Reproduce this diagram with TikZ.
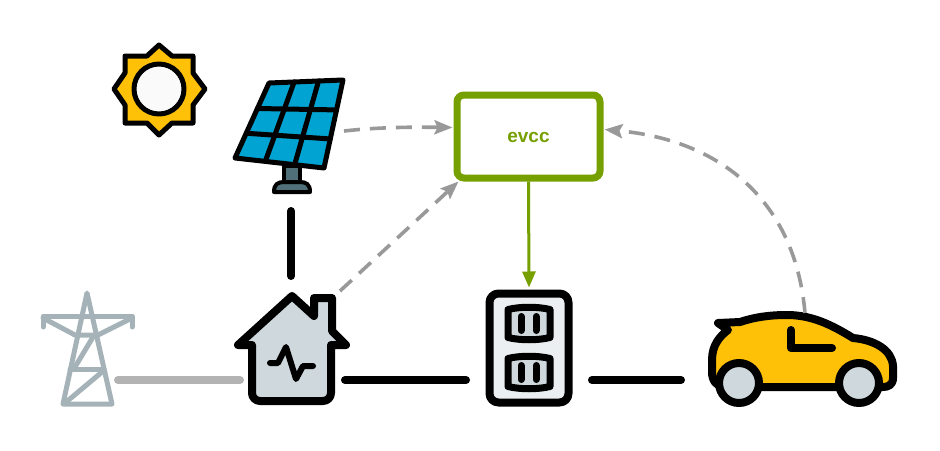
\documentclass[tikz,border=0pt]{standalone}
\usepackage{fontspec}
\setsansfont{Liberation Sans}
\usetikzlibrary{arrows.meta,calc}
\definecolor{evccgreen}{HTML}{76A000}
\definecolor{flowgray}{HTML}{999999}
\definecolor{gridgray}{HTML}{B3B3B3}
\definecolor{towergray}{HTML}{A5B3B8}
\definecolor{sunyellow}{HTML}{FFC107}
\definecolor{panelblue}{HTML}{00A3D1}
\definecolor{standgray}{HTML}{4F7078}
\definecolor{housegray}{HTML}{CFD8DC}
\definecolor{socketgray}{HTML}{ECEFF1}
\tikzset{
  icon/.style={draw=black,line width=5pt,line join=round,line cap=round},
  thick icon/.style={icon,line width=8pt},
  tower/.style={draw=towergray,line width=5pt,line join=round,line cap=round},
  power/.style={draw=black,line width=8pt,line cap=round},
  flow/.style={draw=flowgray,line width=3.6pt,dash pattern=on 16pt off 10pt,-{Stealth[length=18pt,width=14pt,inset=3pt,sep=0pt]}},
  slot/.style={draw=black,line width=7pt,line cap=round}
}
\begin{document}
\begin{tikzpicture}[x=1pt,y=-1pt]
	\useasboundingbox (0,0) rectangle (940,450);
	%sun
	\draw[icon,fill=sunyellow] (159,45) -- (172,56) -- (193,56) -- (193,73) -- (205,89) -- (193,105) -- (193,123) -- (172,123) -- (159,135) -- (147,123) -- (125,123) -- (125,105) -- (114,89) -- (125,73) -- (125,56) -- (147,56) -- cycle;
	\draw[icon,fill=white!98!black] (159,89) circle(25);
	%solar panel
	\draw[icon,fill=standgray,line width=4pt] (284,166) rectangle (300,184);
	\draw[icon,fill=standgray,line width=4pt] (274,192) .. controls (274,184) and (278,182) .. (284,182) -- (300,182) .. controls (306,182) and (310,184) .. (310,192) -- cycle;
	\coordinate (PA) at (269,83);
	\coordinate (PB) at (343,80);
	\coordinate (PC) at (324,168);
	\coordinate (PD) at (235,158);
	\draw[icon,fill=panelblue] (PA) -- (PB) -- (PC) -- (PD) -- cycle;
	\foreach \t in {0.34,0.67}{
		\draw[icon] ($(PA)!\t!(PB)$) -- ($(PD)!\t!(PC)$);
		\draw[icon] ($(PA)!\t!(PD)$) -- ($(PB)!\t!(PC)$);
	}
	\coordinate (panelS) at (291,211);
	\coordinate (panelE) at (344,131);
	%grid tower
	\draw[tower] (87,293) -- (63,404) -- (112,404) -- cycle;
	\draw[tower] (43,327) -- (43,316) -- (132,316) -- (132,327);
	\draw[tower] (43,318) -- (75,335) -- (98,335) -- (132,318);
	\draw[tower] (93,337) -- (75,367);
	\draw[tower] (70,369) -- (103,369);
	\draw[tower] (102,372) -- (65,403);
	\coordinate (towerE) at (118,380);
	%house
	\draw[thick icon,fill=housegray] (292,296) -- (314,316) -- (314,298) -- (332,298) -- (332,331) -- (346,345) -- (331,345) -- (331,392) [rounded corners=8pt] -- (331,401) -- (252,401) [sharp corners] -- (252,345) -- (238,345) -- cycle;
	\draw[icon,line width=6pt] (270,363) -- (278,363) -- (286,347) -- (296,379) -- (303,366) -- (313,366);
	\coordinate (houseN) at (291,276);
	\coordinate (houseW) at (240,380);
	\coordinate (houseE) at (345,380);
	\coordinate (houseNE) at (340,291);
	%socket
	\node[thick icon,fill=socketgray,rounded corners=9pt,minimum width=79pt,minimum height=109pt,inner sep=0pt] (socket) at (529,348) {};
	\foreach \y in {323.5,372.5}{
		\draw[icon,fill=housegray,line width=7pt] (508,\y-14) .. controls (520,\y-17) and (538,\y-17) .. (550,\y-14) -- (550,\y+14) .. controls (538,\y+17) and (520,\y+17) .. (508,\y+14) -- cycle;
		\draw[slot] (521,\y-7) -- (521,\y+7);
		\draw[slot] (536,\y-7) -- (536,\y+7);
	}
	\coordinate (socketW) at (466,380);
	\coordinate (socketE) at (592,380);
	%car
	\draw[thick icon,fill=sunyellow] (718,323) -- (740,322) .. controls (755,317) and (770,315) .. (787,315) .. controls (812,315) and (832,325) .. (853,338) .. controls (875,340) and (892,350) .. (893,366) -- (893,378) .. controls (893,385) and (888,387) .. (883,387) -- (725,387) .. controls (716,387) and (712,380) .. (712,372) -- (712,360) .. controls (712,345) and (720,336) .. (728,330) -- cycle;
	\draw[thick icon] (791,330) -- (791,348) -- (832,348);
	\draw[thick icon,fill=housegray] (739,383) circle(20);
	\draw[thick icon,fill=housegray] (859,383) circle(20);
	\coordinate (carW) at (681,380);
	\coordinate (carN) at (805,313);
	%evcc box
	\node[draw=evccgreen,line width=7pt,rounded corners=7pt,minimum width=143pt,minimum height=83pt,inner sep=0pt,text=evccgreen,text height=13pt,font=\sffamily\bfseries\fontsize{19}{19}\selectfont] (evcc) at (528.5,136.5) {evcc};
	%power lines
	\draw[power] (panelS) -- (houseN);
	\draw[power,draw=gridgray] (towerE) -- (houseW);
	\draw[power] (houseE) -- (socketW);
	\draw[power] (socketE) -- (carW);
	%data flows
	\draw[flow] (panelE) .. controls (380,127) and (415,127) .. ($(evcc.west)+(-1,-9)$);
	\draw[flow] (houseNE) -- ($(evcc.south west)+(5,0)$);
	\draw[flow] (carN) .. controls (795,200) and (720,140) .. ($(evcc.east)+(1,-7)$);
	\draw[draw=evccgreen,line width=3pt,-{Stealth[length=16pt,width=13pt,inset=0pt]}] (evcc.south) -- ($(socket.north)+(0,-2)$);
\end{tikzpicture}
\end{document}
